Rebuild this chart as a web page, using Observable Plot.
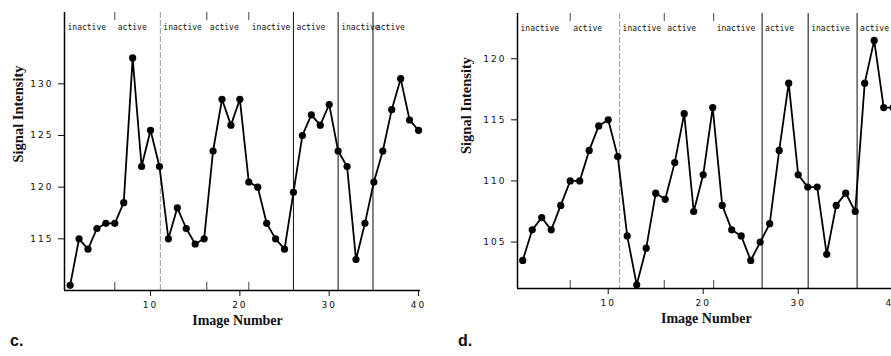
<!DOCTYPE html>
<html><head><meta charset="utf-8">
<script src="https://cdn.jsdelivr.net/npm/d3@7"></script>
<script src="https://cdn.jsdelivr.net/npm/@observablehq/plot@0.6"></script>
<style>
html,body{margin:0;padding:0;background:#fff;}
#wrap{position:relative;width:891px;height:356px;overflow:hidden;background:#fff;}
.panel{position:absolute;top:0;}
.panel svg{max-width:none !important;background:transparent !important;}
.tag{position:absolute;font:bold 16px "Liberation Sans",Arial,sans-serif;color:#111;}
svg [aria-label^="x-axis"] text, svg [aria-label^="y-axis"] text{letter-spacing:2px;}
</style></head>
<body><div id="wrap">
<div id="pc" class="panel" style="left:0"></div>
<div id="pd" class="panel" style="left:445px"></div>
<div class="tag" style="left:10px;top:332px">c.</div>
<div class="tag" style="left:458px;top:332px">d.</div>
</div>
<script>
const imageNumber = [1,2,3,4,5,6,7,8,9,10,11,12,13,14,15,16,17,18,19,20,21,22,23,24,25,26,27,28,29,30,31,32,33,34,35,36,37,38,39,40];
const intensityC = [110.5,115,114,116,116.5,116.5,118.5,132.5,122,125.5,122,115,118,116,114.5,115,123.5,128.5,126,128.5,120.5,120,116.5,115,114,119.5,125,127,126,128,123.5,122,113,116.5,120.5,123.5,127.5,130.5,126.5,125.5];
const intensityD = [103.5,106,107,106,108,110,110,112.5,114.5,115,112,105.5,101.5,104.5,109,108.5,111.5,115.5,107.5,110.5,116,108,106,105.5,103.5,105,106.5,112.5,118,110.5,109.5,109.5,104,108,109,107.5,118,121.5,116,116];
const phaseNames = ["inactive","active","inactive","active","inactive","active","inactive","active"];
const phaseStartsC = [0.37,6,11.1,16.3,21,26,31,34.9];
const phaseStartsD = [0.45,6,11.2,15.9,21.1,26.2,31.05,36.2];
const lightLinesC = [11.1];
const darkLinesC = [26,31,34.9];
const markLinesC = [6,16.3,21];
const lightLinesD = [11.2];
const darkLinesD = [26.2,31.05,36.2];
const markLinesD = [6,15.9,21.1];
const xTicks = [10,20,30,40];
const yTicksC = [115,120,125,130];
const yTicksD = [105,110,115,120];

function panel(o) {
  const data = imageNumber.map((n, i) => ({n, v: o.values[i]}));
  const frameH = 356 - o.marginTop - o.marginBottom;
  return Plot.plot({
    width: o.width, height: 356,
    marginLeft: o.marginLeft, marginRight: o.marginRight, marginTop: o.marginTop, marginBottom: o.marginBottom,
    style: {background: "transparent", fontFamily: "DejaVu Sans, sans-serif", fontSize: "9px", color: "#111"},
    x: {domain: o.xDomain, ticks: xTicks, tickSize: 6, tickPadding: 5, label: null, tickFormat: d3.format("d")},
    y: {domain: o.yDomain, ticks: o.yTicks, tickSize: 6, tickPadding: 5, label: null, tickFormat: d3.format("d")},
    marks: [
      Plot.ruleX(o.light, {stroke: "#999", strokeWidth: 1, strokeDasharray: "6,2"}),
      Plot.ruleX(o.dark, {stroke: "#222", strokeWidth: 1.1}),
      Plot.ruleX(o.marks, {stroke: "#444", strokeWidth: 1, insetBottom: frameH - 8}),
      Plot.ruleX(o.marks, {stroke: "#444", strokeWidth: 1, insetTop: frameH - 8}),
      Plot.ruleX([o.xDomain[0]], {stroke: "#000", strokeWidth: 1.5}),
      Plot.ruleY([o.yDomain[0]], {stroke: "#000", strokeWidth: 1.5}),
      Plot.line(data, {x: "n", y: "v", stroke: "#000", strokeWidth: 1.8}),
      Plot.dot(data, {x: "n", y: "v", r: 3.6, fill: "#000", stroke: "none"}),
      Plot.text(phaseNames, {x: (d, i) => o.starts[i], text: d => d, frameAnchor: "top", dy: 12, dx: 3, textAnchor: "start", fontFamily: "DejaVu Sans Mono", fontSize: 8, fill: "#111"}),
      Plot.text(["Image Number"], {text: d => d, frameAnchor: "bottom", dy: 34, dx: o.titleDx, fontFamily: "Liberation Serif", fontWeight: "bold", fontSize: 14, fill: "#111"}),
      Plot.text(["Signal Intensity"], {text: d => d, frameAnchor: "left", rotate: -90, dx: o.yTitleDx, dy: o.yTitleDy, fontFamily: "Liberation Serif", fontWeight: "bold", fontSize: 14.5, fill: "#111"})
    ]
  });
}

document.getElementById("pc").append(panel({
  values: intensityC, width: 445, marginLeft: 64, marginRight: 25, marginTop: 12, marginBottom: 66,
  xDomain: [0.37, 40.22], yDomain: [110, 136.9], yTicks: yTicksC, starts: phaseStartsC,
  light: lightLinesC, dark: darkLinesC, marks: markLinesC, titleDx: -5, yTitleDx: -46, yTitleDy: 11
}));
document.getElementById("pd").append(panel({
  values: intensityD, width: 460, marginLeft: 72, marginRight: 10.4, marginTop: 13, marginBottom: 68,
  xDomain: [0.45, 40.2], yDomain: [101.2, 123.7], yTicks: yTicksD, starts: phaseStartsD,
  light: lightLinesD, dark: darkLinesD, marks: markLinesD, titleDx: 0, yTitleDx: -51, yTitleDy: 3
}));
</script>
</body></html>
